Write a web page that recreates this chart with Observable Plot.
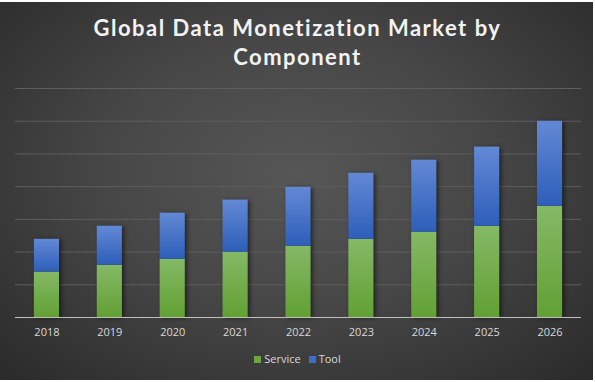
<!DOCTYPE html>
<html>
<head>
<meta charset="utf-8">
<script src="https://cdn.jsdelivr.net/npm/d3@7"></script>
<script src="https://cdn.jsdelivr.net/npm/@observablehq/plot@0.6"></script>
<style>
  html, body { margin: 0; padding: 0; background: #ffffff; }
  #wrap {
    position: relative; width: 595px; height: 382px; overflow: hidden;
    background: #ffffff;
  }
  #panel {
    position: absolute; left: 0; top: 2px; width: 593px; height: 378px;
    background: radial-gradient(ellipse at 50% 45%, #565656 0%, #474747 45%, #2a2a2a 100%);
  }
  #title {
    position: absolute; left: 0; top: 13px; width: 595px; text-align: center;
    font-family: Lato, "Open Sans", sans-serif; font-weight: bold; font-size: 22px;
    line-height: 29px; color: #f2f2f2; letter-spacing: 1.5px;
  }
  #chart { position: absolute; left: 0; top: 70px; }
  #legend {
    position: absolute; left: 0; top: 351px; width: 595px; text-align: center;
    font-family: "Open Sans", sans-serif; font-size: 11px; color: #d9d9d9;
  }
  #legend span.sw { display: inline-block; width: 7px; height: 7px; margin-right: 3px; vertical-align: 0px; }
  #legend span.it { margin: 0 4px; }
</style>
</head>
<body>
<div id="wrap">
  <div id="panel"></div>
  <div id="title">Global Data Monetization Market by<br>Component</div>
  <div id="chart"></div>
  <div id="legend"></div>
</div>
<script>
const years = ["2018","2019","2020","2021","2022","2023","2024","2025","2026"];
const service = [1.39, 1.60, 1.78, 2.00, 2.18, 2.39, 2.61, 2.79, 3.40];
const tool    = [1.00, 1.19, 1.41, 1.59, 1.80, 2.02, 2.20, 2.42, 2.60];
const components = ["Service", "Tool"];
const swatch = ["#6aa83e", "#3c6ec8"];
const gridTicks = [1, 2, 3, 4, 5, 6, 7];

const rows = [];
years.forEach((y, i) => {
  rows.push({year: y, component: "Service", value: service[i]});
  rows.push({year: y, component: "Tool", value: tool[i]});
});

const chart = Plot.plot({
  width: 595,
  height: 275,
  marginLeft: 15,
  marginRight: 14,
  marginTop: 18,
  marginBottom: 28,
  style: {background: "transparent", color: "#d9d9d9", fontFamily: "'Open Sans', sans-serif", fontSize: "11px"},
  x: {domain: years, paddingInner: 0.6, paddingOuter: 0.3, round: false, label: null, tickSize: 0, tickPadding: 11},
  y: {domain: [0, 7], axis: null},
  color: {domain: components, range: ["url(#gService)", "url(#gTool)"]},
  marks: [
    Plot.ruleY(gridTicks, {stroke: "#5e5e5e", strokeWidth: 1}),
    Plot.barY(rows, {x: "year", y: "value", fill: "component"}),
    Plot.ruleY([0], {stroke: "#bfbfbf", strokeWidth: 1.2})
  ]
});

const defs = d3.select(chart).insert("defs", ":first-child");
const g1 = defs.append("linearGradient").attr("id", "gService").attr("x1", 0).attr("y1", 0).attr("x2", 0).attr("y2", 1);
g1.append("stop").attr("offset", "0%").attr("stop-color", "#85b966");
g1.append("stop").attr("offset", "100%").attr("stop-color", "#62a033");
const g2 = defs.append("linearGradient").attr("id", "gTool").attr("x1", 0).attr("y1", 0).attr("x2", 0).attr("y2", 1);
g2.append("stop").attr("offset", "0%").attr("stop-color", "#6389d5");
g2.append("stop").attr("offset", "100%").attr("stop-color", "#2d5eb9");

d3.select(chart).selectAll("g[aria-label='bar']").style("filter", "drop-shadow(2px 1px 2px rgba(0,0,0,0.55))");

document.getElementById("chart").appendChild(chart);

const legend = document.getElementById("legend");
components.forEach((c, i) => {
  const it = document.createElement("span");
  it.className = "it";
  const sw = document.createElement("span");
  sw.className = "sw";
  sw.style.background = swatch[i];
  it.appendChild(sw);
  it.appendChild(document.createTextNode(c));
  legend.appendChild(it);
});
</script>
</body>
</html>
